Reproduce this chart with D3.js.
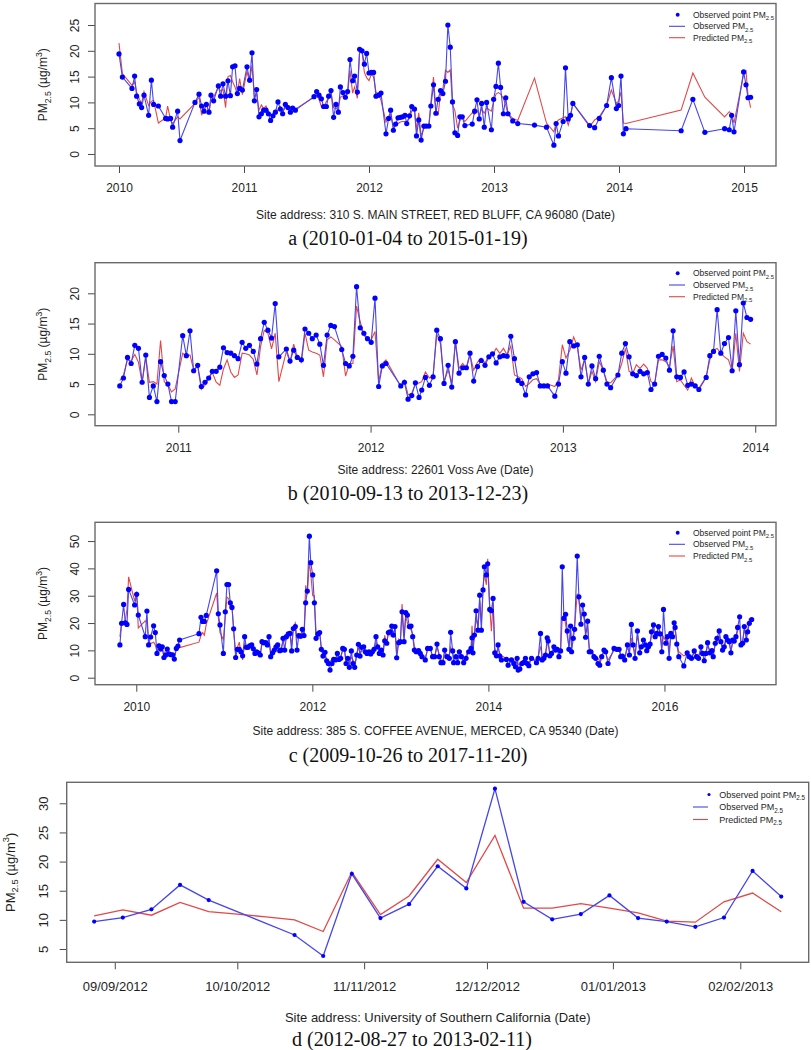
<!DOCTYPE html>
<html><head><meta charset="utf-8">
<script src="https://cdn.jsdelivr.net/npm/d3@7"></script>
<style>body{margin:0;background:#fff}svg{display:block}</style>
</head><body>
<script>
// ---------------- DATA ----------------
// Panel a: decimal year, observed, predicted
const aYear = [2010.000,2010.027,2010.104,2010.125,2010.141,2010.163,2010.181,2010.200,2010.237,2010.259,
2010.277,2010.315,2010.373,2010.389,2010.413,2010.429,2010.469,2010.488,2010.608,2010.640,
2010.661,2010.680,2010.699,2010.720,2010.736,2010.757,2010.795,2010.813,2010.832,2010.853,
2010.872,2010.891,2010.909,2010.928,2010.947,2010.965,2010.987,2011.024,2011.045,2011.064,
2011.083,2011.101,2011.120,2011.139,2011.157,2011.176,2011.195,2011.213,2011.232,2011.251,
2011.272,2011.291,2011.309,2011.331,2011.352,2011.371,2011.389,2011.411,2011.560,2011.581,
2011.600,2011.619,2011.637,2011.659,2011.677,2011.696,2011.717,2011.736,2011.755,2011.771,
2011.792,2011.811,2011.829,2011.848,2011.869,2011.885,2011.907,2011.925,2011.944,2011.963,
2011.981,2012.000,2012.019,2012.037,2012.056,2012.077,2012.096,2012.136,2012.157,2012.173,
2012.195,2012.213,2012.232,2012.251,2012.269,2012.288,2012.302,2012.324,2012.342,2012.364,
2012.380,2012.398,2012.417,2012.439,2012.457,2012.479,2012.495,2012.516,2012.535,2012.553,
2012.572,2012.591,2012.612,2012.631,2012.650,2012.668,2012.687,2012.709,2012.727,2012.746,
2012.767,2012.826,2012.845,2012.864,2012.882,2012.901,2012.922,2012.941,2012.979,2012.997,
2013.016,2013.035,2013.053,2013.075,2013.094,2013.112,2013.150,2013.190,2013.324,2013.420,
2013.479,2013.497,2013.516,2013.553,2013.572,2013.594,2013.612,2013.631,2013.765,2013.805,
2013.842,2013.901,2013.939,2013.979,2013.997,2014.016,2014.035,2014.056,2014.497,2014.591,
2014.687,2014.845,2014.882,2014.901,2014.920,2014.997,2015.016,2015.032,2015.053];
const aObs = [19.4,14.9,12.7,15.1,11.2,9.7,9.0,11.4,7.5,14.3,
9.6,9.3,6.9,6.8,6.9,5.2,8.3,2.6,10.0,11.6,
9.3,8.3,9.6,8.1,11.4,10.3,13.2,11.2,13.6,11.2,
14.2,11.3,16.9,17.1,11.7,12.7,12.4,16.9,14.3,19.6,
10.3,12.5,7.2,7.8,8.5,8.5,7.8,6.5,7.4,8.1,
10.1,8.7,7.8,9.6,9.0,8.1,8.9,8.5,11.1,12.1,
11.4,10.7,9.2,9.2,11.2,12.3,7.1,9.6,8.1,13.0,
11.9,11.0,12.1,18.3,14.2,15.1,12.0,20.3,20.0,17.4,
19.5,15.7,15.8,15.8,11.2,11.4,11.8,3.9,6.9,8.5,
4.6,5.8,7.0,7.1,7.2,7.5,5.9,7.4,9.2,8.7,
3.5,6.6,2.7,5.4,5.4,5.4,9.3,13.4,7.9,10.6,
12.3,11.7,14.1,25.0,20.7,10.1,4.1,3.6,7.2,7.2,
5.5,5.8,8.3,10.5,6.8,9.8,5.2,10.0,4.7,10.6,
13.1,17.6,12.9,7.8,10.9,7.8,6.4,5.9,5.6,5.2,
1.7,5.9,3.5,6.3,16.7,6.8,7.5,9.8,5.5,5.1,
6.9,9.4,14.8,8.8,9.4,15.1,3.9,4.9,4.5,10.6,
4.2,4.9,4.7,7.5,4.3,15.9,13.4,10.9,11.0];
const aPred = [21.5,15.6,13.3,14.0,12.0,10.6,9.8,12.1,9.4,10.2,
10.4,6.0,7.0,9.3,6.5,5.9,7.2,6.8,9.8,11.0,
7.5,9.0,9.7,7.9,10.6,11.0,13.0,12.2,12.5,9.0,
15.0,15.2,14.0,13.0,11.5,14.6,11.5,16.0,13.8,17.2,
11.0,11.6,8.5,9.5,8.8,9.3,8.2,7.4,7.3,7.9,
8.6,9.2,8.3,9.0,9.4,8.6,8.1,8.7,11.0,11.4,
10.6,9.2,9.0,10.2,10.8,11.9,9.0,8.7,9.2,11.0,
11.3,11.4,11.6,16.2,11.8,13.0,10.8,19.8,19.9,15.8,
14.8,14.2,15.5,14.9,12.0,11.6,10.4,6.2,6.8,7.6,
5.2,6.0,5.9,6.2,6.3,6.3,6.3,6.9,8.3,8.6,
4.6,8.0,3.5,5.0,5.2,5.6,10.0,14.9,8.6,7.5,
11.8,12.6,16.2,15.8,16.3,9.6,8.4,5.0,6.4,7.2,
6.3,8.0,7.7,8.5,7.4,8.7,7.9,8.9,8.3,10.2,
11.6,11.9,11.6,10.8,9.4,7.8,6.9,6.5,14.7,6.0,
4.3,6.0,6.6,7.0,7.2,5.6,7.3,9.8,5.3,6.6,
7.2,9.4,12.4,9.8,10.3,12.0,6.0,5.9,8.5,15.7,
11.0,7.2,8.2,7.8,6.0,15.5,16.1,11.4,9.0];

// Panel b
const bYear = [2010.696,2010.715,2010.736,2010.755,2010.774,2010.793,2010.812,2010.831,2010.850,2010.870,
2010.889,2010.908,2010.927,2010.946,2010.965,2010.984,2011.023,2011.042,2011.061,2011.080,
2011.101,2011.120,2011.139,2011.158,2011.177,2011.197,2011.216,2011.235,2011.254,2011.273,
2011.292,2011.311,2011.332,2011.351,2011.370,2011.390,2011.409,2011.428,2011.447,2011.466,
2011.485,2011.504,2011.523,2011.562,2011.581,2011.600,2011.619,2011.640,2011.659,2011.678,
2011.697,2011.717,2011.736,2011.755,2011.774,2011.793,2011.812,2011.850,2011.870,2011.889,
2011.908,2011.927,2011.946,2011.965,2011.984,2012.003,2012.023,2012.042,2012.061,2012.080,
2012.157,2012.176,2012.195,2012.214,2012.233,2012.252,2012.266,2012.285,2012.306,2012.325,
2012.344,2012.363,2012.382,2012.403,2012.422,2012.441,2012.460,2012.479,2012.498,2012.517,
2012.536,2012.556,2012.575,2012.595,2012.615,2012.634,2012.653,2012.672,2012.691,2012.710,
2012.729,2012.748,2012.767,2012.786,2012.806,2012.825,2012.844,2012.863,2012.882,2012.901,
2012.920,2012.958,2012.977,2012.997,2013.016,2013.036,2013.056,2013.075,2013.094,2013.113,
2013.132,2013.151,2013.170,2013.189,2013.210,2013.229,2013.248,2013.286,2013.306,2013.325,
2013.344,2013.363,2013.382,2013.401,2013.420,2013.439,2013.458,2013.477,2013.497,2013.516,
2013.535,2013.554,2013.573,2013.592,2013.611,2013.630,2013.649,2013.668,2013.688,2013.707,
2013.745,2013.764,2013.783,2013.802,2013.821,2013.840,2013.861,2013.880,2013.899,2013.918,
2013.938,2013.957,2013.976];
const bObs = [4.7,6.0,9.4,8.4,11.4,10.9,5.3,9.8,2.8,4.7,
2.1,8.7,6.4,5.0,2.1,2.1,13.0,9.7,13.8,7.2,
8.1,4.6,5.3,6.0,7.1,7.1,7.8,11.0,10.2,10.1,
9.7,9.2,11.9,10.9,11.4,10.4,8.3,12.5,15.2,13.9,
12.6,18.3,9.5,10.8,8.8,10.6,9.4,9.0,14.1,13.4,
12.5,13.1,11.6,8.1,13.1,14.7,14.5,10.7,8.4,8.0,
9.6,21.1,14.3,13.4,12.5,11.9,19.2,4.6,8.0,8.4,
4.7,5.3,2.5,3.1,5.2,2.8,4.0,6.1,4.8,6.2,
13.9,12.5,5.1,8.1,4.5,12.0,6.8,7.7,7.7,10.1,
5.5,7.9,8.9,8.1,9.5,10.0,8.5,9.5,9.7,9.6,
12.9,9.2,5.6,5.1,3.2,6.2,6.7,6.9,4.7,4.7,
4.7,3.0,5.0,8.7,6.8,12.0,11.3,11.5,6.2,9.4,
5.0,8.0,5.9,9.6,7.3,5.0,4.4,6.5,10.1,11.7,
9.5,6.7,6.4,7.1,6.7,6.9,4.1,5.0,9.6,9.9,
9.3,7.3,13.8,6.2,6.1,7.0,4.8,5.0,4.7,4.1,
6.1,9.7,10.4,17.3,10.1,11.7,12.7,7.2,17.1,8.2,
18.4,16.0,15.7];
const bPred = [5.6,6.5,9.0,8.8,9.9,8.6,5.2,9.4,5.3,5.4,
5.0,12.2,5.4,4.9,3.7,4.2,10.1,9.6,9.8,7.4,
7.9,4.1,4.8,5.9,6.9,5.3,4.8,7.5,9.0,7.0,
6.1,6.5,10.1,10.0,9.8,9.1,6.5,11.2,13.9,13.4,
10.8,13.4,5.4,10.4,8.6,11.6,9.5,8.6,13.4,10.6,
10.3,10.1,9.8,6.2,12.3,12.8,12.3,11.2,6.3,8.4,
8.4,17.9,15.3,13.1,12.3,12.3,13.7,5.4,8.4,9.0,
4.6,5.6,3.2,3.5,5.0,5.2,5.4,7.0,6.0,6.4,
13.3,11.7,5.4,7.3,5.2,12.1,7.6,8.4,7.6,9.8,
7.3,8.6,9.3,8.5,9.7,9.7,10.9,10.1,10.9,9.8,
11.3,6.5,6.2,5.9,4.6,5.1,5.7,5.9,5.0,4.6,
5.0,4.6,5.7,11.5,9.3,10.6,12.8,11.2,7.3,9.0,
5.1,7.1,5.4,8.7,7.3,5.4,5.2,6.5,8.4,10.9,
7.1,6.8,8.2,7.6,8.3,7.6,5.4,5.1,9.0,9.0,
8.7,7.9,11.3,5.4,5.7,4.8,4.0,6.0,4.6,4.3,
6.2,9.0,10.6,10.9,10.1,9.5,9.0,7.1,13.4,7.1,
13.4,12.0,11.6];

// Panel c
const cYear = [2009.814,2009.833,2009.856,2009.875,2009.894,2009.913,2009.981,2010.004,2010.023,2010.102,
2010.121,2010.140,2010.163,2010.197,2010.216,2010.235,2010.258,2010.277,2010.295,2010.314,
2010.333,2010.352,2010.371,2010.394,2010.413,2010.432,2010.455,2010.473,2010.492,2010.712,
2010.735,2010.754,2010.773,2010.795,2010.913,2010.932,2010.951,2010.989,2011.011,2011.030,
2011.049,2011.068,2011.087,2011.106,2011.129,2011.148,2011.170,2011.189,2011.208,2011.231,
2011.250,2011.269,2011.288,2011.311,2011.330,2011.348,2011.367,2011.390,2011.409,2011.428,
2011.447,2011.470,2011.489,2011.508,2011.527,2011.549,2011.568,2011.587,2011.606,2011.629,
2011.648,2011.667,2011.686,2011.705,2011.727,2011.746,2011.765,2011.784,2011.807,2011.826,
2011.845,2011.867,2011.886,2011.905,2011.924,2011.943,2011.966,2011.982,2012.004,2012.023,
2012.042,2012.064,2012.083,2012.102,2012.121,2012.144,2012.163,2012.182,2012.201,2012.223,
2012.242,2012.261,2012.284,2012.303,2012.322,2012.345,2012.364,2012.383,2012.402,2012.420,
2012.443,2012.462,2012.481,2012.504,2012.523,2012.542,2012.561,2012.583,2012.602,2012.621,
2012.644,2012.663,2012.682,2012.701,2012.723,2012.742,2012.761,2012.784,2012.803,2012.822,
2012.845,2012.864,2012.883,2012.902,2012.920,2012.939,2012.958,2012.981,2013.000,2013.019,
2013.042,2013.061,2013.080,2013.102,2013.121,2013.140,2013.159,2013.180,2013.207,2013.226,
2013.245,2013.283,2013.309,2013.340,2013.366,2013.389,2013.416,2013.442,2013.461,2013.484,
2013.503,2013.529,2013.556,2013.571,2013.594,2013.605,2013.632,2013.651,2013.670,2013.693,
2013.719,2013.746,2013.776,2013.803,2013.814,2013.825,2013.841,2013.860,2013.882,2013.901,
2013.920,2013.939,2013.954,2013.977,2013.992,2014.015,2014.034,2014.053,2014.072,2014.091,
2014.110,2014.129,2014.148,2014.205,2014.224,2014.262,2014.288,2014.307,2014.326,2014.338,
2014.357,2014.380,2014.402,2014.421,2014.440,2014.459,2014.490,2014.546,2014.565,2014.592,
2014.611,2014.630,2014.649,2014.668,2014.679,2014.698,2014.717,2014.744,2014.763,2014.782,
2014.801,2014.820,2014.839,2014.858,2014.877,2014.896,2014.915,2014.934,2014.945,2014.964,
2014.979,2015.009,2015.028,2015.051,2015.070,2015.089,2015.104,2015.127,2015.146,2015.165,
2015.199,2015.218,2015.245,2015.264,2015.287,2015.313,2015.332,2015.359,2015.427,2015.457,
2015.484,2015.503,2015.522,2015.548,2015.579,2015.602,2015.624,2015.643,2015.666,2015.693,
2015.719,2015.738,2015.761,2015.784,2015.799,2015.818,2015.837,2015.852,2015.875,2015.894,
2015.913,2015.932,2015.951,2015.970,2015.989,2016.015,2016.034,2016.053,2016.072,2016.091,
2016.110,2016.121,2016.140,2016.163,2016.220,2016.258,2016.281,2016.307,2016.338,2016.364,
2016.387,2016.414,2016.433,2016.452,2016.471,2016.490,2016.516,2016.539,2016.554,2016.577,
2016.596,2016.622,2016.641,2016.660,2016.679,2016.698,2016.717,2016.736,2016.755,2016.774,
2016.793,2016.812,2016.831,2016.854,2016.869,2016.888,2016.907,2016.930,2016.945,2016.964,
2016.991];
const cObs = [12.0,19.9,26.8,20.1,19.5,32.3,26.6,30.5,22.9,15.0,
24.4,12.0,14.9,19.0,16.5,8.9,11.7,10.5,11.3,7.4,
8.3,10.5,8.7,8.4,8.4,6.8,10.7,11.6,13.8,16.1,
22.1,20.6,20.6,22.8,39.1,23.4,19.3,8.9,24.1,34.1,
34.1,27.4,25.7,17.9,7.4,10.4,10.4,9.5,8.0,15.0,
11.1,11.1,11.7,12.0,10.6,8.9,9.5,9.0,8.3,13.2,
12.8,12.8,12.0,15.0,7.7,9.1,10.1,11.3,12.0,9.9,
10.1,14.4,10.1,15.0,16.0,16.2,9.8,18.0,18.7,10.1,
15.4,15.2,17.7,15.4,27.4,31.7,51.8,42.1,37.6,27.4,
14.4,16.0,16.5,10.4,7.9,9.3,6.2,5.2,2.8,5.2,
6.7,6.5,8.9,6.7,7.1,10.7,10.4,5.2,7.1,3.8,
9.8,5.2,3.8,8.3,12.2,7.9,11.1,11.3,9.5,8.9,
9.5,8.7,9.5,10.4,15.0,11.3,8.9,10.1,8.3,13.5,
12.6,16.5,16.8,18.9,15.6,18.7,7.3,12.8,13.2,24.1,
13.2,23.8,22.9,18.7,18.9,15.0,10.1,9.5,9.9,8.9,
7.7,6.5,10.7,10.7,7.7,7.7,12.3,7.7,5.5,5.5,
10.1,7.7,7.1,16.6,9.8,5.5,7.7,5.5,9.5,7.7,
5.5,7.1,9.5,10.7,14.6,9.1,15.6,24.5,17.4,30.2,
17.4,32.1,40.6,37.6,41.7,25.0,24.5,29.0,9.1,8.0,
12.0,7.9,6.5,6.7,4.6,6.5,5.2,4.0,7.1,2.8,
3.2,5.2,5.6,7.1,5.2,4.4,7.1,5.5,7.1,16.2,
6.5,7.1,8.3,14.6,13.4,8.0,8.9,11.3,10.1,10.4,
7.7,9.8,40.6,21.7,23.2,17.1,10.4,18.9,9.5,14.4,
17.7,44.5,29.6,19.6,26.6,23.3,14.8,20.7,9.5,9.5,
7.7,7.1,5.2,4.6,7.7,10.1,9.5,5.2,10.7,10.4,
10.4,7.7,7.9,6.5,12.0,8.3,19.5,12.0,7.1,17.1,
9.1,11.3,13.8,12.0,9.9,11.3,12.3,16.8,19.3,15.0,
16.2,18.7,16.0,9.5,25.0,12.6,15.0,7.1,16.2,15.0,
20.1,18.4,12.3,7.7,4.3,9.1,7.7,7.1,9.8,7.7,
7.1,11.3,8.9,6.2,8.9,12.8,9.1,9.9,7.7,12.6,
14.4,17.1,13.2,10.1,11.3,15.0,13.8,13.2,9.1,13.8,
13.4,15.0,18.4,22.3,12.0,12.6,18.7,13.8,16.8,19.9,
21.3];
const cPred = [15.0,20.5,20.0,21.0,25.0,36.9,28.0,31.5,18.2,20.8,
20.0,13.5,12.5,13.0,12.0,9.5,12.5,9.8,10.5,8.0,
10.2,9.5,9.0,8.5,8.0,7.5,10.5,11.0,11.0,13.0,
15.5,16.5,15.5,19.5,31.0,22.0,16.5,14.0,22.0,29.5,
29.0,25.5,26.5,17.0,9.0,11.0,13.0,9.0,6.5,12.5,
11.5,10.8,11.2,11.0,10.0,9.2,9.4,9.5,8.6,12.5,
12.0,12.5,11.5,13.5,9.0,9.5,10.5,11.5,12.0,10.5,
11.0,13.0,13.5,14.0,15.5,16.0,12.0,18.5,20.0,14.0,
16.0,14.5,16.5,15.0,33.8,30.5,42.5,38.0,30.0,30.0,
16.5,15.0,17.0,11.0,8.5,8.0,6.5,5.8,6.0,6.5,
6.0,7.0,8.0,7.5,7.8,10.0,11.0,6.0,7.5,5.5,
7.5,6.5,5.0,8.0,11.5,9.0,10.0,9.5,9.0,9.0,
9.5,9.5,10.0,11.0,13.0,11.5,9.5,10.5,9.5,15.5,
12.0,17.5,15.5,18.0,16.5,17.5,8.5,14.0,13.0,27.0,
15.0,22.5,20.0,18.0,17.5,16.0,11.5,10.0,10.5,9.0,
8.0,7.5,10.0,10.5,8.0,7.5,11.0,8.5,6.5,6.5,
9.5,8.0,8.5,11.0,9.0,7.0,7.5,6.5,9.0,8.0,
6.5,8.0,10.0,11.0,19.0,12.0,15.0,22.0,18.5,28.0,
20.0,33.0,38.0,34.0,43.5,26.0,17.0,27.5,11.0,9.0,
10.5,9.0,8.0,7.0,6.5,7.0,6.5,5.5,7.5,5.0,
4.5,6.0,5.5,6.5,6.0,5.5,7.0,6.5,7.5,11.5,
7.5,8.0,9.0,12.0,12.5,9.0,9.5,10.5,10.0,10.0,
9.0,9.5,22.0,23.0,19.5,15.0,11.5,17.0,12.0,16.0,
18.5,30.8,28.0,22.0,24.0,21.0,16.5,18.0,11.0,10.0,
8.5,8.0,7.0,6.0,8.0,9.5,9.0,6.5,10.0,10.5,
11.0,8.5,8.5,7.5,11.0,9.5,14.5,11.5,9.0,15.5,
10.5,11.5,12.0,12.5,10.5,12.0,13.0,15.0,18.0,16.5,
15.0,19.5,16.5,11.0,15.0,13.5,14.0,10.0,15.0,14.5,
17.5,18.0,13.0,9.5,8.0,8.5,8.0,7.5,9.0,8.5,
8.0,10.0,9.5,8.0,9.0,11.5,10.0,10.5,9.0,12.0,
13.0,15.5,13.5,11.0,11.0,13.5,14.0,12.5,10.0,12.5,
13.0,14.5,17.0,19.0,13.0,13.5,17.5,15.0,17.5,21.5,
21.0];

// Panel d: weekly index, observed (null = missing), predicted
const dIndex = [0,1,2,3,4,5,6,7,8,9,10,11,12,13,14,15,16,17,18,19,20,21,22,23,24];
const dObs  = [9.7,10.4,11.8,16.0,13.4,null,null,7.4,3.8,17.9,10.3,12.7,19.2,15.4,32.5,13.1,10.1,11.0,14.2,10.3,9.7,8.8,10.4,18.4,14.0];
const dPred = [10.7,11.7,10.8,13.0,11.4,11.0,10.5,10.0,8.0,18.2,10.9,14.1,20.4,16.4,24.5,12.0,12.0,12.8,12.0,11.2,9.8,9.6,13.1,14.6,11.4];
const dTickPos    = [0.72,5.0,9.43,13.72,18.12,22.57];
const dTickLabels = ["09/09/2012","10/10/2012","11/11/2012","12/12/2012","01/01/2013","02/02/2013"];

const aYearTicks = [2010,2011,2012,2013,2014,2015];
const bYearTicks = [2011,2012,2013,2014];
const cYearTicks = [2010,2012,2014,2016];
const aYTicks = [0,5,10,15,20,25];
const bYTicks = [0,5,10,15,20];
const cYTicks = [0,10,20,30,40,50];
const dYTicks = [5,10,15,20,25,30];

const siteLabels = [
  "Site address: 310 S. MAIN STREET, RED BLUFF, CA 96080 (Date)",
  "Site address: 22601 Voss Ave (Date)",
  "Site address: 385 S. COFFEE AVENUE, MERCED, CA 95340 (Date)",
  "Site address: University of Southern California (Date)"
];
const captions = [
  "a (2010-01-04 to 2015-01-19)",
  "b (2010-09-13 to 2013-12-23)",
  "c (2009-10-26 to 2017-11-20)",
  "d (2012-08-27 to 2013-02-11)"
];
const legendLabels = [["Observed point PM","2.5"],["Observed PM","2.5"],["Predicted PM","2.5"]];

// ---------------- DRAW ----------------
const SANS = "'Liberation Sans', Arial, Helvetica, sans-serif";
const SERIF = "'Liberation Serif', 'Times New Roman', serif";
const BLUE_PT = "#0000ff", BLUE_LN = "#4646ec", RED_LN = "#e34848", TXT = "#1e1e1e";

const svg = d3.select("body").append("svg").attr("width", 811).attr("height", 1050);

function drawPanel(p) {
  const x = d3.scaleLinear().domain(p.xDomain).range([p.box.l, p.box.r]);
  const y = d3.scaleLinear().domain(p.yDomain).range([p.box.b, p.box.t]);
  const g = svg.append("g");

  // x axis
  const gx = g.append("g").attr("transform", `translate(0,${p.box.b})`)
    .call(d3.axisBottom(x).tickValues(p.xTicks).tickFormat(p.xFmt).tickSize(7).tickSizeOuter(0));
  gx.select(".domain").remove();
  gx.attr("font-family", SANS).attr("font-size", p.fs);
  gx.selectAll(".tick line").attr("stroke", "#4a4a4a");
  gx.selectAll(".tick text").attr("y", p.xLabOff).attr("dy", "0.35em").attr("fill", TXT);

  // y axis
  const gy = g.append("g").attr("transform", `translate(${p.box.l},0)`)
    .call(d3.axisLeft(y).tickValues(p.yTicks).tickFormat(d3.format("d")).tickSize(7).tickSizeOuter(0));
  gy.select(".domain").remove();
  gy.attr("font-family", SANS).attr("font-size", p.fs);
  gy.selectAll(".tick line").attr("stroke", "#4a4a4a");
  gy.selectAll(".tick text").attr("x", 0).attr("dy", "0.35em").attr("text-anchor", "middle")
    .attr("transform", `translate(${-p.yLabOff},0) rotate(-90)`).attr("fill", TXT);

  // lines
  const line = d3.line().x(d => x(d.x)).y(d => y(d.v));
  const predPts = p.xs.map((v, i) => ({x: v, v: p.pred[i]}));
  const obsPts = p.xs.map((v, i) => ({x: v, v: p.obs[i]})).filter(d => d.v !== null);
  g.append("path").datum(predPts).attr("d", line).attr("fill", "none")
    .attr("stroke", RED_LN).attr("stroke-width", p.lw);
  g.append("path").datum(obsPts).attr("d", line).attr("fill", "none")
    .attr("stroke", BLUE_LN).attr("stroke-width", p.lw);
  g.append("g").selectAll("circle").data(obsPts).join("circle")
    .attr("cx", d => x(d.x)).attr("cy", d => y(d.v)).attr("r", p.r).attr("fill", BLUE_PT);

  // box
  g.append("rect").attr("x", p.box.l).attr("y", p.box.t)
    .attr("width", p.box.r - p.box.l).attr("height", p.box.b - p.box.t)
    .attr("fill", "none").attr("stroke", "#6a6a6a").attr("stroke-width", 1.4);

  // y label
  const cy = (p.box.t + p.box.b) / 2;
  const yl = g.append("text").attr("transform", `translate(${p.ylabX},${cy}) rotate(-90)`)
    .attr("text-anchor", "middle").attr("dy", "0.35em")
    .attr("font-family", SANS).attr("font-size", p.fs).attr("fill", TXT);
  yl.append("tspan").text("PM");
  yl.append("tspan").attr("font-size", p.fs * 0.72).attr("dy", p.fs * 0.3).text("2.5");
  yl.append("tspan").attr("dy", -p.fs * 0.3).text(" (µg/m");
  yl.append("tspan").attr("font-size", p.fs * 0.72).attr("dy", -p.fs * 0.4).text("3");
  yl.append("tspan").attr("dy", p.fs * 0.4).text(")");

  // site & caption
  g.append("text").attr("x", (p.box.l + p.box.r) / 2).attr("y", p.siteY).attr("dy", "0.35em")
    .attr("text-anchor", "middle").attr("font-family", SANS).attr("font-size", p.fs)
    .attr("fill", TXT).text(p.site);
  g.append("text").attr("x", p.capX).attr("y", p.capY).attr("dy", "0.35em")
    .attr("text-anchor", "middle").attr("font-family", SERIF).attr("font-size", 20)
    .attr("fill", "#111").text(p.caption);

  // legend
  const L = p.leg;
  g.append("circle").attr("cx", L.dotX).attr("cy", L.rows[0]).attr("r", p.r * 0.75).attr("fill", BLUE_PT);
  g.append("line").attr("x1", L.l1).attr("x2", L.l2).attr("y1", L.rows[1]).attr("y2", L.rows[1])
    .attr("stroke", BLUE_LN).attr("stroke-width", 1.1);
  g.append("line").attr("x1", L.l1).attr("x2", L.l2).attr("y1", L.rows[2]).attr("y2", L.rows[2])
    .attr("stroke", RED_LN).attr("stroke-width", 1.1);
  legendLabels.forEach((lab, i) => {
    const t = g.append("text").attr("x", L.txtX).attr("y", L.rows[i]).attr("dy", "0.35em")
      .attr("font-family", SANS).attr("font-size", L.fs).attr("fill", TXT);
    t.append("tspan").text(lab[0]);
    t.append("tspan").attr("font-size", L.fs * 0.7).attr("dy", L.fs * 0.3).text(lab[1]);
  });
}

const yearFmt = d3.format("d");

drawPanel({
  box: {l: 95, r: 776, t: 3.5, b: 166}, xDomain: [2009.808, 2015.256], yDomain: [-2.33, 29.17],
  xTicks: aYearTicks, xFmt: yearFmt, yTicks: aYTicks, xs: aYear, obs: aObs, pred: aPred,
  fs: 12, xLabOff: 22, yLabOff: 20, ylabX: 43, r: 2.6, lw: 1.1,
  site: siteLabels[0], siteY: 215, caption: captions[0], capX: 408, capY: 238,
  leg: {dotX: 677.7, l1: 669, l2: 685, txtX: 693, rows: [14.7, 26.3, 37.7], fs: 8.5}
});
drawPanel({
  box: {l: 95, r: 776, t: 262.7, b: 425.7}, xDomain: [2010.567, 2014.108], yDomain: [-1.88, 25.06],
  xTicks: bYearTicks, xFmt: yearFmt, yTicks: bYTicks, xs: bYear, obs: bObs, pred: bPred,
  fs: 12, xLabOff: 22, yLabOff: 20, ylabX: 43, r: 2.6, lw: 1.1,
  site: siteLabels[1], siteY: 470, caption: captions[1], capX: 408, capY: 493,
  leg: {dotX: 677.7, l1: 669, l2: 685, txtX: 693, rows: [273.3, 285, 296.7], fs: 8.5}
});
drawPanel({
  box: {l: 95, r: 776, t: 522.3, b: 684.7}, xDomain: [2009.531, 2017.267], yDomain: [-2.56, 56.86],
  xTicks: cYearTicks, xFmt: yearFmt, yTicks: cYTicks, xs: cYear, obs: cObs, pred: cPred,
  fs: 12, xLabOff: 22, yLabOff: 20, ylabX: 43, r: 2.6, lw: 1.1,
  site: siteLabels[2], siteY: 731, caption: captions[2], capX: 408, capY: 755,
  leg: {dotX: 677.7, l1: 669, l2: 685, txtX: 693, rows: [532.7, 544.3, 556], fs: 8.5}
});
drawPanel({
  box: {l: 66.7, r: 808.7, t: 782.3, b: 962.3}, xDomain: [-0.96, 24.96], yDomain: [2.72, 33.6],
  xTicks: dTickPos, xFmt: (d, i) => dTickLabels[i], yTicks: dYTicks, xs: dIndex, obs: dObs, pred: dPred,
  fs: 13, xLabOff: 24, yLabOff: 23, ylabX: 10, r: 2.1, lw: 1.3,
  site: siteLabels[3], siteY: 1017, caption: captions[3], capX: 412, capY: 1039,
  leg: {dotX: 709, l1: 693, l2: 708, txtX: 719.3, rows: [794.5, 807, 819.5], fs: 9}
});
</script>
</body></html>
